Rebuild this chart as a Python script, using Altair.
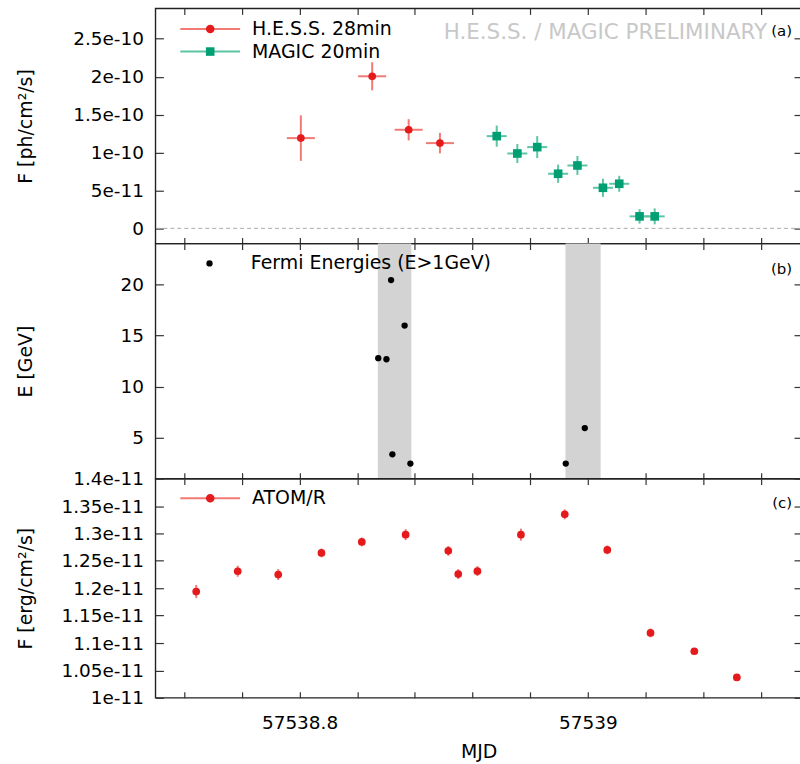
import altair as alt
import pandas as pd

# ---------------- data ----------------
X_DOMAIN = [57538.7, 57539.1486]
X_TICKS = [57538.72, 57538.76, 57538.80, 57538.84, 57538.88, 57538.92,
           57538.96, 57539.00, 57539.04, 57539.08, 57539.12]
X_LABELED = [57538.8, 57539.0]

# panel (a): VHE flux
HESS_LABEL = "H.E.S.S. 28min"
HESS_MJD = [57538.8009, 57538.8504, 57538.8757, 57538.8974]
HESS_FLUX = [1.19e-10, 2.005e-10, 1.30e-10, 1.124e-10]
HESS_ERR = [3.0e-11, 1.85e-11, 1.4e-11, 1.35e-11]
HESS_HALF_BIN = 14.0 / 1440.0  # 28 min bins

MAGIC_LABEL = "MAGIC 20min"
MAGIC_MJD = [57538.9368, 57538.9511, 57538.9649, 57538.9794, 57538.9928,
             57539.0105, 57539.0218, 57539.0359, 57539.0464]
MAGIC_FLUX = [1.216e-10, 0.987e-10, 1.071e-10, 0.72e-10, 0.829e-10,
              0.535e-10, 0.588e-10, 0.158e-10, 0.158e-10]
MAGIC_ERR = [1.4e-11, 1.25e-11, 1.45e-11, 1.2e-11, 1.25e-11,
             1.2e-11, 1.05e-11, 0.95e-11, 1.05e-11]
MAGIC_HALF_BIN = 10.0 / 1440.0  # 20 min bins

YA_DOMAIN = [-2e-11, 2.9e-10]
YA_TICKS = [0, 5e-11, 1e-10, 1.5e-10, 2e-10, 2.5e-10]

# panel (b): Fermi photon energies
FERMI_LABEL = "Fermi Energies (E>1GeV)"
FERMI_MJD = [57538.8546, 57538.8603, 57538.8635, 57538.8644, 57538.8729,
             57538.8769, 57538.9847, 57538.9979]
FERMI_E = [12.78, 12.68, 20.42, 3.38, 15.97, 2.47, 2.47, 5.95]
BAND_START = [57538.8543, 57538.9845]
BAND_END = [57538.8776, 57539.0089]
YB_DOMAIN = [1, 24]
YB_TICKS = [5, 10, 15, 20]

# panel (c): ATOM R-band flux
ATOM_LABEL = "ATOM/R"
ATOM_MJD = [57538.7283, 57538.7571, 57538.7852, 57538.8152, 57538.8432,
            57538.8736, 57538.9032, 57538.9101, 57538.9234, 57538.9536,
            57538.9840, 57539.0135, 57539.0435, 57539.0739, 57539.1034]
ATOM_FLUX = [1.194e-11, 1.231e-11, 1.225e-11, 1.2645e-11, 1.2845e-11,
             1.2978e-11, 1.2682e-11, 1.2258e-11, 1.2312e-11, 1.2978e-11,
             1.3349e-11, 1.270e-11, 1.1185e-11, 1.085e-11, 1.0373e-11]
ATOM_ERR = [0.012e-11, 0.010e-11, 0.010e-11, 0.008e-11, 0.008e-11,
            0.010e-11, 0.009e-11, 0.009e-11, 0.009e-11, 0.011e-11,
            0.009e-11, 0.008e-11, 0.008e-11, 0.005e-11, 0.004e-11]
YC_DOMAIN = [1e-11, 1.4e-11]
YC_TICKS = [1e-11, 1.05e-11, 1.1e-11, 1.15e-11, 1.2e-11, 1.25e-11,
            1.3e-11, 1.35e-11, 1.4e-11]

# ---------------- style ----------------
PANEL_W = 649
H_A, H_B, H_C = 236, 236, 220
XTICK = 6
YTICK = 8
EXTENT = 103
FONT = "DejaVu Sans"
RED = "#e41a1c"
RED_LIGHT = "#f17a74"
GREEN = "#009e73"
GREEN_LIGHT = "#5cc5a3"
SCI_EXPR = "datum.value == 0 ? '0' : format(datum.value, '~e')"
X_EXPR = f"indexof({X_LABELED}, datum.value) >= 0 ? format(datum.value, '.1~f') : ''"

xs = alt.Scale(domain=X_DOMAIN, nice=False, zero=False)


def ax(tick, **kw):
    base = dict(domain=False, grid=False, tickColor="#333333", tickWidth=1.2,
                tickSize=tick, offset=-tick, labelFont=FONT, labelFontSize=18.5,
                labelColor="black", labelOverlap=False, labelFlush=False,
                titleFont=FONT, titleFontSize=19, titleFontWeight="normal",
                titleColor="black")
    base.update(kw)
    return alt.Axis(**base)


def axes_layers(ys, yticks, ytitle, yexpr, bottom_labels):
    df = pd.DataFrame({"x": [X_DOMAIN[0]], "y": [ys.domain[0]]})
    if bottom_labels:
        xb = ax(XTICK, orient="bottom", values=X_TICKS, labelExpr=X_EXPR,
                labelPadding=16, title="MJD", titlePadding=10)
    else:
        xb = ax(XTICK, orient="bottom", values=X_TICKS, labels=False, title=None,
                minExtent=0, maxExtent=0)
    ykw = dict(orient="left", values=yticks, title=ytitle, labelPadding=12,
               minExtent=EXTENT, maxExtent=EXTENT, titlePadding=25)
    if yexpr:
        ykw["labelExpr"] = yexpr
    yl = ax(YTICK, **ykw)
    xt = ax(XTICK, orient="top", values=X_TICKS, labels=False, title=None,
            minExtent=0, maxExtent=0)
    yr = ax(YTICK, orient="right", values=yticks, labels=False, title=None,
            minExtent=0, maxExtent=0)
    l1 = alt.Chart(df).transform_filter("false").mark_point(opacity=0).encode(
        x=alt.X("x:Q", scale=xs, axis=xb), y=alt.Y("y:Q", scale=ys, axis=yl))
    l2 = alt.Chart(df).transform_filter("false").mark_point(opacity=0).encode(
        x=alt.X("x:Q", scale=xs, axis=xt), y=alt.Y("y:Q", scale=ys, axis=yr))
    return [l1, l2]


def one_legend(label, color, shape, size, lx, ly, loff, filled=True, show_label=True):
    mk = dict(filled=filled, opacity=1, size=size, shape=shape)
    lg = dict(title=None, orient="none", legendX=lx, legendY=ly, padding=0,
              labelFont=FONT, labelFontSize=19, labelColor="black",
              labelOffset=loff, labelLimit=500, symbolType=shape,
              symbolSize=size, symbolOpacity=1,
              labelOpacity=1 if show_label else 0)
    if not filled:
        mk.update(strokeWidth=2)
        lg.update(symbolStrokeWidth=2, symbolFillColor="transparent")
    return alt.Chart(pd.DataFrame({"s": [label]})).transform_filter("false").mark_point(**mk).encode(
        color=alt.Color("s:N", scale=alt.Scale(domain=[label], range=[color]),
                        legend=alt.Legend(**lg)))


LINE_PATH = "M-3,0L3,0"
CIRCLE_PATH = "M-0.43,0A0.43,0.43,0,1,1,0.43,0A0.43,0.43,0,1,1,-0.43,0Z"
SQUARE_PATH = "M-0.43,-0.43L0.43,-0.43L0.43,0.43L-0.43,0.43Z"


def line_legend(label, color, light, marker, ly):
    return [
        one_legend(label, light, LINE_PATH, 400, 44, ly, 31, filled=False),
        one_legend(label, color, marker, 400, 44, ly, 31, show_label=False),
    ]


def errbars(df, ys, color, light, half_bin, shape, size):
    layers = []
    if half_bin:
        layers.append(alt.Chart(df).mark_rule(color=light, strokeWidth=2).encode(
            x=alt.X("x0:Q", scale=xs, axis=None), x2="x1:Q",
            y=alt.Y("f:Q", scale=ys, axis=None)))
    layers.append(alt.Chart(df).mark_rule(color=light, strokeWidth=2).encode(
        x=alt.X("t:Q", scale=xs, axis=None),
        y=alt.Y("lo:Q", scale=ys, axis=None), y2="hi:Q"))
    layers.append(alt.Chart(df).mark_point(filled=True, opacity=1, size=size,
                                           shape=shape, color=color).encode(
        x=alt.X("t:Q", scale=xs, axis=None), y=alt.Y("f:Q", scale=ys, axis=None)))
    return layers


def frame(mjd, flux, err, half_bin=None):
    d = pd.DataFrame({"t": mjd, "f": flux, "e": err})
    d["lo"] = d.f - d.e
    d["hi"] = d.f + d.e
    if half_bin:
        d["x0"] = d.t - half_bin
        d["x1"] = d.t + half_bin
    return d


def tag(text, ypix, size=15, color="black", xpix=639):
    return alt.Chart(pd.DataFrame({"txt": [text]})).mark_text(
        align="right", baseline="alphabetic", font=FONT, fontSize=size,
        color=color).encode(x=alt.value(xpix), y=alt.value(ypix), text="txt:N")


# ---------------- panel (a) ----------------
ya = alt.Scale(domain=YA_DOMAIN, nice=False, zero=False)
hess = frame(HESS_MJD, HESS_FLUX, HESS_ERR, HESS_HALF_BIN)
magic = frame(MAGIC_MJD, MAGIC_FLUX, MAGIC_ERR, MAGIC_HALF_BIN)
zero = alt.Chart(pd.DataFrame({"z": [0.0]})).mark_rule(
    color="#aaaaaa", strokeDash=[4, 3], strokeWidth=1).encode(
    y=alt.Y("z:Q", scale=ya, axis=None))
panel_a = alt.layer(
    *axes_layers(ya, YA_TICKS, "F [ph/cm²/s]", SCI_EXPR, False),
    zero,
    *errbars(hess, ya, RED, RED_LIGHT, HESS_HALF_BIN, "circle", 60),
    *errbars(magic, ya, GREEN, GREEN_LIGHT, MAGIC_HALF_BIN, "square", 75),
    tag("H.E.S.S. / MAGIC PRELIMINARY", 31, size=21.5, color="#c8c8c8", xpix=614),
    tag("(a)", 28),
    *line_legend(HESS_LABEL, RED, RED_LIGHT, CIRCLE_PATH, 9.7),
    *line_legend(MAGIC_LABEL, GREEN, GREEN_LIGHT, SQUARE_PATH, 32.3),
).resolve_axis(x="independent", y="independent").resolve_scale(
    color="independent").properties(width=PANEL_W, height=H_A)

# ---------------- panel (b) ----------------
yb = alt.Scale(domain=YB_DOMAIN, nice=False, zero=False)
bands = alt.Chart(pd.DataFrame({"s": BAND_START, "e": BAND_END})).mark_rect(
    color="#d3d3d3").encode(x=alt.X("s:Q", scale=xs, axis=None), x2="e:Q")
fermi = alt.Chart(pd.DataFrame({"t": FERMI_MJD, "E": FERMI_E})).mark_point(
    filled=True, opacity=1, size=40, color="black").encode(
    x=alt.X("t:Q", scale=xs, axis=None), y=alt.Y("E:Q", scale=yb, axis=None))
panel_b = alt.layer(
    bands,
    *axes_layers(yb, YB_TICKS, "E [GeV]", None, False),
    fermi,
    tag("(b)", 31),
    one_legend(FERMI_LABEL, "black", "circle", 40, 44.8, 10.5, 32),
).resolve_axis(x="independent", y="independent").resolve_scale(
    color="independent").properties(width=PANEL_W, height=H_B)

# ---------------- panel (c) ----------------
yc = alt.Scale(domain=YC_DOMAIN, nice=False, zero=False)
atom = frame(ATOM_MJD, ATOM_FLUX, ATOM_ERR)
panel_c = alt.layer(
    *axes_layers(yc, YC_TICKS, "F [erg/cm²/s]", SCI_EXPR, True),
    *errbars(atom, yc, RED, RED_LIGHT, None, "circle", 60),
    tag("(c)", 29),
    *line_legend(ATOM_LABEL, RED, RED_LIGHT, CIRCLE_PATH, 8.7),
).resolve_axis(x="independent", y="independent").resolve_scale(
    color="independent").properties(width=PANEL_W, height=H_C)

chart = alt.vconcat(panel_a, panel_b, panel_c, spacing=0, bounds="flush").properties(
    padding={"left": 16, "top": 5, "right": -4, "bottom": 4}
).configure(font=FONT).configure_view(stroke="#222222", strokeWidth=1.4)

chart.save("out.html", embed_options={"renderer": "svg", "actions": False})
